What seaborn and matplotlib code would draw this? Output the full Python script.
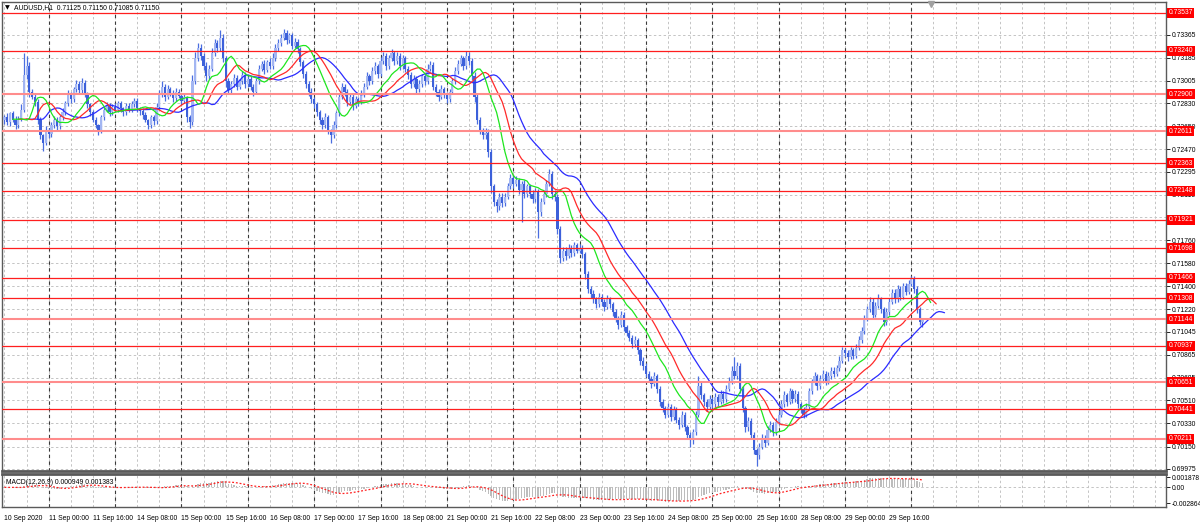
import numpy as np
import pandas as pd
import matplotlib
matplotlib.use("Agg")
import matplotlib.pyplot as plt
import matplotlib.transforms as mtransforms
import seaborn as sns

# ---------------- data ----------------
SYMBOL_TITLE = "AUDUSD,H1  0.71125 0.71150 0.71085 0.71150"
MACD_TITLE = "MACD(12,26,9) 0.000949 0.001383"

FIRST_OPEN = 0.7270
CLOSE = [
    0.7272, 0.7268, 0.7275, 0.7270, 0.7266, 0.7271, 0.7278, 0.7305, 0.7312, 0.7292,
    0.7288, 0.7284, 0.7270, 0.7258, 0.7252, 0.7262, 0.7259, 0.7266, 0.7270, 0.7265,
    0.7272, 0.7276, 0.7283, 0.7290, 0.7286, 0.7294, 0.7298, 0.7293, 0.7299, 0.7290,
    0.7282, 0.7276, 0.7270, 0.7266, 0.7262, 0.7272, 0.7278, 0.7281, 0.7276, 0.7280,
    0.7278, 0.7283, 0.7279, 0.7276, 0.7281, 0.7278, 0.7282, 0.7285, 0.7279, 0.7277,
    0.7274, 0.7270, 0.7266, 0.7272, 0.7269, 0.7280, 0.7290, 0.7296, 0.7288, 0.7294,
    0.7291, 0.7287, 0.7292, 0.7289, 0.7285, 0.7288, 0.7272, 0.7268, 0.7300, 0.7318,
    0.7326, 0.7320, 0.7312, 0.7304, 0.7310, 0.7322, 0.7330, 0.7326, 0.7334, 0.7318,
    0.7300, 0.7293, 0.7298, 0.7303, 0.7296, 0.7300, 0.7305, 0.7298, 0.7302, 0.7296,
    0.7292, 0.7300, 0.7310, 0.7314, 0.7309, 0.7315, 0.7312, 0.7318, 0.7326, 0.7330,
    0.7334, 0.7338, 0.7332, 0.7336, 0.7328, 0.7331, 0.7325, 0.7315, 0.7306, 0.7298,
    0.7292, 0.7286, 0.7282, 0.7276, 0.7270, 0.7266, 0.7272, 0.7262, 0.7258, 0.7266,
    0.7275, 0.7288, 0.7296, 0.7292, 0.7284, 0.7288, 0.7281, 0.7286, 0.7284, 0.7290,
    0.7296, 0.7304, 0.7300, 0.7308, 0.7312, 0.7306, 0.7316, 0.7320, 0.7312, 0.7318,
    0.7322, 0.7316, 0.7320, 0.7312, 0.7318, 0.7310, 0.7305, 0.7298, 0.7302, 0.7294,
    0.7298, 0.7304, 0.7300, 0.7310, 0.7313, 0.7296, 0.7292, 0.7288, 0.7294, 0.7290,
    0.7286, 0.7292, 0.7300, 0.7308, 0.7314, 0.7318, 0.7312, 0.7320, 0.7316, 0.7304,
    0.7288, 0.7270, 0.7262, 0.7258, 0.7260, 0.7245, 0.7218, 0.7206, 0.7203, 0.7210,
    0.7205, 0.7210, 0.7218, 0.7225, 0.7220, 0.7223, 0.7215, 0.7220, 0.7212, 0.7218,
    0.7212, 0.7208, 0.7214, 0.7198, 0.7206, 0.7212, 0.7220, 0.7228, 0.7212, 0.7210,
    0.7185, 0.7162, 0.7168, 0.7164, 0.7170, 0.7166, 0.7172, 0.7168, 0.7170, 0.7165,
    0.7150, 0.7138, 0.7134, 0.7130, 0.7126, 0.7132, 0.7128, 0.7124, 0.7130, 0.7126,
    0.7120, 0.7115, 0.7110, 0.7118, 0.7108, 0.7104, 0.7100, 0.7095, 0.7098, 0.7090,
    0.7082, 0.7078, 0.7072, 0.7068, 0.7064, 0.7070, 0.7060, 0.7050, 0.7045, 0.7040,
    0.7046, 0.7038, 0.7044, 0.7036, 0.7032, 0.7040, 0.7030, 0.7024, 0.7020, 0.7026,
    0.7040, 0.7062, 0.7055, 0.7050, 0.7046, 0.7052, 0.7048, 0.7054, 0.7050, 0.7056,
    0.7052, 0.7060, 0.7066, 0.7074, 0.7070, 0.7078, 0.7060, 0.7045, 0.7030, 0.7035,
    0.7024, 0.7012, 0.7008, 0.7015, 0.7022, 0.7018, 0.7028, 0.7032, 0.7026, 0.7034,
    0.7040, 0.7048, 0.7055, 0.7050, 0.7058, 0.7052, 0.7056, 0.7048, 0.7044, 0.7040,
    0.7046, 0.7058, 0.7065, 0.7070, 0.7062, 0.7068, 0.7072, 0.7066, 0.7070, 0.7074,
    0.7072, 0.7076, 0.7082, 0.7090, 0.7088, 0.7085, 0.7090, 0.7086, 0.7092, 0.7098,
    0.7105, 0.7115, 0.7122, 0.7128, 0.7118, 0.7125, 0.7130, 0.7122, 0.7112, 0.7120,
    0.7128, 0.7135, 0.7130, 0.7138, 0.7132, 0.7140, 0.7136, 0.7142, 0.7146, 0.7138,
    0.7122, 0.71125, 0.71150,
]
UPPER_WICK_PIPS = [
    2, 3, 1, 2, 3, 2, 4, 17, 8, 3,
    2, 3, 2, 2, 1, 3, 2, 2, 3, 2,
    2, 3, 2, 3, 2, 2, 3, 2, 4, 2,
    2, 1, 2, 2, 1, 2, 2, 3, 2, 2,
    3, 2, 2, 1, 2, 2, 3, 2, 2, 1,
    2, 2, 1, 2, 2, 3, 3, 4, 2, 3,
    2, 2, 3, 2, 2, 2, 1, 2, 5, 5,
    4, 3, 2, 3, 3, 4, 3, 2, 6, 3,
    2, 3, 2, 3, 2, 2, 3, 2, 2, 2,
    2, 3, 3, 2, 3, 2, 3, 4, 3, 3,
    3, 3, 2, 2, 2, 3, 2, 2, 2, 2,
    2, 3, 2, 2, 2, 2, 3, 2, 1, 3,
    2, 3, 3, 2, 2, 2, 2, 3, 2, 3,
    3, 3, 2, 3, 3, 2, 3, 3, 2, 3,
    3, 2, 3, 2, 3, 2, 2, 2, 3, 2,
    3, 2, 2, 4, 3, 2, 2, 2, 3, 2,
    2, 2, 3, 3, 3, 3, 2, 4, 3, 2,
    3, 3, 2, 2, 4, 3, 2, 2, 2, 3,
    3, 3, 3, 3, 2, 3, 2, 2, 3, 2,
    2, 3, 3, 2, 3, 3, 3, 4, 2, 3,
    2, 2, 3, 3, 3, 2, 3, 2, 3, 2,
    2, 2, 2, 3, 2, 3, 2, 2, 3, 2,
    2, 2, 2, 3, 2, 2, 2, 2, 3, 2,
    2, 3, 2, 2, 2, 3, 2, 2, 2, 2,
    3, 2, 3, 2, 2, 3, 2, 2, 2, 3,
    3, 8, 3, 2, 2, 3, 2, 3, 2, 3,
    2, 3, 3, 4, 11, 3, 2, 2, 2, 3,
    2, 2, 2, 3, 3, 2, 3, 3, 2, 3,
    3, 3, 3, 2, 3, 2, 3, 2, 2, 2,
    3, 3, 3, 3, 2, 3, 3, 2, 3, 3,
    3, 3, 4, 3, 2, 2, 3, 2, 3, 3,
    3, 3, 3, 4, 3, 3, 4, 2, 2, 3,
    3, 3, 3, 3, 2, 3, 3, 3, 2, 2,
    2, 2, 0,
]
LOWER_WICK_PIPS = [
    3, 2, 3, 2, 3, 2, 2, 2, 3, 4,
    2, 3, 3, 3, 6, 2, 3, 2, 2, 3,
    2, 2, 2, 2, 3, 2, 2, 3, 2, 2,
    3, 3, 2, 2, 4, 2, 2, 2, 3, 2,
    2, 2, 3, 3, 2, 2, 2, 2, 3, 3,
    3, 2, 3, 2, 3, 2, 2, 2, 3, 2,
    2, 3, 2, 2, 3, 2, 4, 4, 2, 2,
    2, 3, 3, 4, 2, 2, 2, 3, 2, 3,
    4, 3, 2, 2, 3, 2, 2, 3, 2, 3,
    3, 2, 2, 2, 3, 2, 2, 2, 2, 2,
    2, 2, 3, 2, 3, 2, 3, 3, 3, 3,
    3, 3, 3, 3, 3, 3, 2, 3, 6, 2,
    2, 2, 2, 3, 3, 2, 3, 2, 3, 2,
    2, 2, 3, 2, 2, 3, 2, 2, 3, 2,
    2, 3, 2, 3, 2, 3, 3, 3, 2, 3,
    2, 2, 3, 2, 2, 3, 3, 3, 2, 3,
    3, 2, 2, 2, 2, 2, 3, 2, 3, 3,
    4, 3, 3, 3, 3, 4, 5, 3, 5, 3,
    3, 2, 2, 2, 3, 2, 3, 25, 3, 2,
    3, 3, 2, 20, 3, 2, 2, 2, 4, 3,
    4, 4, 2, 3, 2, 3, 2, 2, 2, 3,
    4, 3, 3, 3, 3, 2, 3, 3, 2, 3,
    3, 3, 3, 2, 3, 3, 3, 3, 2, 3,
    3, 3, 3, 3, 3, 2, 3, 3, 3, 3,
    2, 3, 2, 3, 3, 2, 3, 3, 5, 3,
    2, 2, 3, 3, 3, 2, 3, 2, 3, 2,
    3, 2, 2, 2, 2, 2, 3, 3, 4, 3,
    3, 3, 8, 3, 2, 3, 2, 2, 3, 2,
    2, 2, 2, 3, 2, 3, 2, 3, 3, 3,
    2, 2, 2, 2, 3, 2, 2, 3, 2, 2,
    3, 2, 2, 2, 3, 3, 2, 3, 2, 2,
    2, 2, 2, 2, 3, 2, 2, 3, 3, 2,
    2, 2, 3, 2, 3, 2, 3, 2, 2, 3,
    3, 3, 4,
]

LEVELS = [0.73537, 0.73240, 0.72900, 0.72611, 0.72363, 0.72148, 0.71921,
          0.71698, 0.71466, 0.71308, 0.71144, 0.70937, 0.70651, 0.70441, 0.70211]
SOFT_LEVELS = [0.72900, 0.72611, 0.71144, 0.70651, 0.70211]

# price grid levels; the labelled ones are those visible on the right scale
PRICE_GRID = [0.73365, 0.73185, 0.73005, 0.72830, 0.72650, 0.72470, 0.72295,
              0.72115, 0.71940, 0.71760, 0.71580, 0.71400, 0.71220, 0.71045,
              0.70865, 0.70685, 0.70510, 0.70330, 0.70150, 0.69975]
PRICE_TICKS = [0.73365, 0.73185, 0.73005, 0.72830, 0.72650, 0.72470, 0.72295,
               0.72115, 0.71760, 0.71580, 0.71400, 0.71220, 0.71045,
               0.70865, 0.70685, 0.70510, 0.70330, 0.70150, 0.69975]
MACD_TICKS = [0.001878, 0.0, -0.002864]
MACD_TICK_LABELS = ["0.001878", "0.00", "-0.002864"]

DATE_LABELS = ["10 Sep 2020", "11 Sep 00:00", "11 Sep 16:00", "14 Sep 08:00",
               "15 Sep 00:00", "15 Sep 16:00", "16 Sep 08:00", "17 Sep 00:00",
               "17 Sep 16:00", "18 Sep 08:00", "21 Sep 00:00", "21 Sep 16:00",
               "22 Sep 08:00", "23 Sep 00:00", "23 Sep 16:00", "24 Sep 08:00",
               "25 Sep 00:00", "25 Sep 16:00", "28 Sep 08:00", "29 Sep 00:00",
               "29 Sep 16:00"]
BARS_PER_LABEL = 16
FIRST_DAY_START = 16   # bar index of 11 Sep 00:00
BARS_PER_DAY = 24

# ---------------- derived series ----------------
close = np.array(CLOSE)
opn = np.r_[FIRST_OPEN, close[:-1]]
high = np.maximum(opn, close) + np.array(UPPER_WICK_PIPS) * 1e-4
low = np.minimum(opn, close) - np.array(LOWER_WICK_PIPS) * 1e-4
idx = np.arange(len(close))
df = pd.DataFrame({"bar": idx, "open": opn, "high": high, "low": low, "close": close})
median = (df["high"] + df["low"]) / 2

# Alligator (SMMA of median price, shifted forward)
gator = []
for name, n, shift in [("jaw", 13, 8), ("teeth", 8, 5), ("lips", 5, 3)]:
    s = median.ewm(alpha=1.0 / n, adjust=False).mean()
    gator.append(pd.DataFrame({"bar": idx + shift, "value": s.values, "line": name}))
gator = pd.concat(gator, ignore_index=True)

ema12 = df["close"].ewm(span=12, adjust=False).mean()
ema26 = df["close"].ewm(span=26, adjust=False).mean()
macd = ema12 - ema26
signal = macd.rolling(9, min_periods=1).mean()

# ---------------- styling ----------------
sns.set_style("white")
FONT = ["Liberation Sans Narrow", "Liberation Sans", "DejaVu Sans"]
plt.rcParams["font.family"] = FONT
FS = 4.9

fig = plt.figure(figsize=(12, 5.23), dpi=100)
ax = fig.add_axes([2 / 1200, 1 - 471 / 523, 1164 / 1200, (471 - 1.5) / 523])
axm = fig.add_axes([2 / 1200, 1 - 507 / 523, 1164 / 1200, (507 - 474) / 523], sharex=ax)

XMIN, XMAX = -0.9, 420.1
ax.set_xlim(XMIN, XMAX)
ax.set_ylim(0.69959, 0.73624)
axm.set_ylim(-0.00359, 0.00243)

GRID = "#c4c4c4"
SEP = "#3a3a3a"
for a in (ax, axm):
    for xv in np.arange(0, XMAX, 8):
        a.axvline(xv, color=GRID, lw=0.7, ls=(0, (2.5, 2.5)), zorder=0)
    for xv in np.arange(FIRST_DAY_START, len(close), BARS_PER_DAY):
        a.axvline(xv, color=SEP, lw=0.8, ls=(0, (3, 3)), zorder=0.5)
for yv in PRICE_GRID:
    ax.axhline(yv, color=GRID, lw=0.7, ls=(0, (2.5, 2.5)), zorder=0)
axm.axhline(0.0, color=GRID, lw=0.7, ls=(0, (2.5, 2.5)), zorder=0)

# ---------------- candles ----------------
WICK = "#4a6ee0"
BULL = "#a3b6f2"
BEAR = "#3c60da"
ax.vlines(df["bar"], df["low"], df["high"], color=WICK, lw=0.9, zorder=2)
bull = df["close"] > df["open"]
bear = df["close"] < df["open"]
doji = df["close"] == df["open"]
ax.bar(df["bar"][bull], (df["close"] - df["open"])[bull], bottom=df["open"][bull],
       width=0.8, color=BULL, linewidth=0, zorder=3)
ax.bar(df["bar"][bear], (df["close"] - df["open"])[bear], bottom=df["open"][bear],
       width=0.8, color=BEAR, linewidth=0, zorder=3)
ax.hlines(df["close"][doji], df["bar"][doji] - 0.4, df["bar"][doji] + 0.4,
          color="black", lw=0.8, zorder=3)

# Alligator lines
sns.lineplot(data=gator, x="bar", y="value", hue="line",
             palette={"jaw": "#2b2bff", "teeth": "#ff2a2a", "lips": "#1ee61e"},
             hue_order=["jaw", "teeth", "lips"], lw=0.9, ax=ax, legend=False,
             zorder=4, sort=False, estimator=None)

# horizontal levels
for lv in LEVELS:
    if lv in SOFT_LEVELS:
        ax.axhline(lv, color="#ff8c8c", lw=1.5, zorder=5)
    else:
        ax.axhline(lv, color="#ff1e1e", lw=0.9, zorder=5)

# ---------------- MACD ----------------
axm.bar(idx, macd.values, width=0.45, color="#bdbdbd", linewidth=0, zorder=2)
sns.lineplot(x=idx, y=signal.values, ax=axm, color="#ff2020", lw=0.9,
             linestyle=(0, (1.5, 1.5)), zorder=3)

# ---------------- axes / ticks ----------------
for a in (ax, axm):
    for sp in a.spines.values():
        sp.set_color("#5a5a5a")
        sp.set_linewidth(1.0)
    a.yaxis.tick_right()
    a.tick_params(axis="y", which="both", direction="out", length=3, width=0.6,
                  pad=1.2, labelsize=FS, colors="black", right=True, left=False)
    a.set_xlabel("")
    a.set_ylabel("")
ax.spines["bottom"].set_linewidth(2.0)
axm.spines["top"].set_linewidth(2.0)

ax.set_yticks(PRICE_TICKS)
ax.set_yticklabels([f"{v:.5f}" for v in PRICE_TICKS])
axm.set_yticks(MACD_TICKS)
axm.set_yticklabels(MACD_TICK_LABELS)

ax.tick_params(axis="x", which="both", bottom=False, labelbottom=False)
date_pos = np.arange(len(DATE_LABELS)) * BARS_PER_LABEL
axm.set_xticks(date_pos)
axm.set_xticklabels(DATE_LABELS, ha="left")
axm.tick_params(axis="x", direction="out", length=3, width=0.6, pad=2.5,
                labelsize=FS, colors="black")

# red price labels
trans = mtransforms.blended_transform_factory(ax.transAxes, ax.transData)
for lv in LEVELS:
    ax.text(1.0022, lv, f"{lv:.5f}", transform=trans, ha="left", va="center",
            fontsize=FS, color="white", family=FONT, clip_on=False, zorder=10,
            bbox=dict(boxstyle="square,pad=0.22", fc="#ff0000", ec="none"))

# titles
ax.text(0.0025, 0.992, "\u25bc", transform=ax.transAxes, ha="left", va="top",
        fontsize=4.5, color="black", family=["DejaVu Sans"])
ax.text(0.0105, 0.995, SYMBOL_TITLE, transform=ax.transAxes, ha="left", va="top",
        fontsize=FS, color="black", family=FONT)
axm.text(0.0035, 0.86, MACD_TITLE, transform=axm.transAxes, ha="left", va="top",
         fontsize=FS, color="black", family=FONT)
# chart shift marker
ax.plot([335], [0.73605], marker="v", ms=4, color="#a0a0a0", clip_on=False, zorder=6)

fig.savefig("out.png", dpi=100, facecolor="white")
